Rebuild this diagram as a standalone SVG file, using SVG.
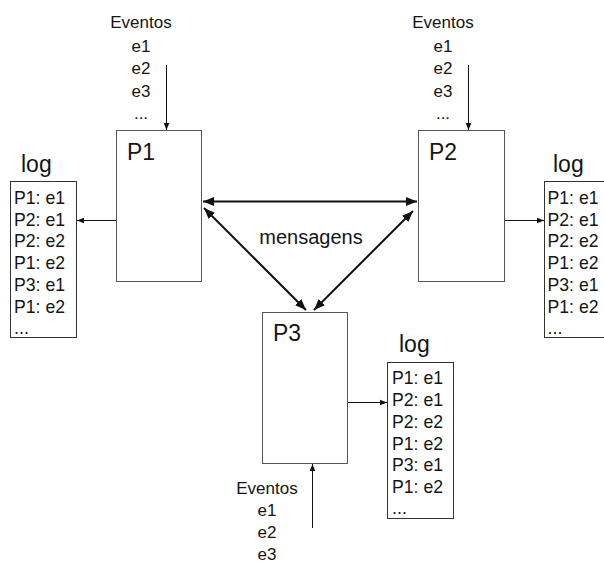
<svg xmlns="http://www.w3.org/2000/svg" width="604" height="580" viewBox="0 0 604 580">
  <defs>
    <marker id="head" viewBox="0 0 10 10" refX="10" refY="5" markerWidth="7" markerHeight="7" markerUnits="userSpaceOnUse" orient="auto">
      <path d="M0,1 L10,5 L0,9 z" fill="#111"/>
    </marker>
    <marker id="headBold" viewBox="0 0 10 10" refX="10" refY="5" markerWidth="11" markerHeight="11" markerUnits="userSpaceOnUse" orient="auto-start-reverse">
      <path d="M0,1 L10,5 L0,9 z" fill="#111"/>
    </marker>
    <style>
      text { font-family: "Liberation Sans", Arial, sans-serif; fill: #151515; }
      .proc { fill: #fff; stroke: #555; stroke-width: 1; }
      .logbox { fill: #fff; stroke: #333; stroke-width: 1; }
      .plabel { font-size: 24px; }
      .loglabel { font-size: 23px; }
      .entry { font-size: 19px; }
      .ev { font-size: 17px; text-anchor: middle; }
      .msg { font-size: 20px; text-anchor: middle; }
      .thin { stroke: #111; stroke-width: 1; fill: none; marker-end: url(#head); }
      .bold { stroke: #111; stroke-width: 2; fill: none; marker-start: url(#headBold); marker-end: url(#headBold); }
    </style>
  </defs>

  <!-- process P1 -->
  <g id="p1">
    <rect class="proc" x="116.5" y="130.5" width="85" height="151"/>
    <text class="plabel" x="127" y="160" textLength="28" lengthAdjust="spacingAndGlyphs">P1</text>
  </g>

  <!-- process P2 -->
  <g id="p2">
    <rect class="proc" x="418.5" y="130.5" width="86" height="151"/>
    <text class="plabel" x="429" y="160" textLength="28" lengthAdjust="spacingAndGlyphs">P2</text>
  </g>

  <!-- process P3 -->
  <g id="p3">
    <rect class="proc" x="262.5" y="312.5" width="85" height="151"/>
    <text class="plabel" x="273" y="341" textLength="28" lengthAdjust="spacingAndGlyphs">P3</text>
  </g>

  <!-- event lists -->
  <g id="events-p1">
    <text class="ev" x="141" y="28">Eventos</text>
    <text class="ev" x="141" y="51.5">e1</text>
    <text class="ev" x="141" y="74">e2</text>
    <text class="ev" x="141" y="96.5">e3</text>
    <text class="ev" x="141" y="118.5">...</text>
  </g>
  <g id="events-p2">
    <text class="ev" x="443" y="28">Eventos</text>
    <text class="ev" x="443" y="51.5">e1</text>
    <text class="ev" x="443" y="74">e2</text>
    <text class="ev" x="443" y="96.5">e3</text>
    <text class="ev" x="443" y="118.5">...</text>
  </g>
  <g id="events-p3">
    <text class="ev" x="267" y="493.5">Eventos</text>
    <text class="ev" x="267" y="516">e1</text>
    <text class="ev" x="267" y="538">e2</text>
    <text class="ev" x="267" y="560">e3</text>
  </g>

  <!-- log of P1 -->
  <g id="log-p1">
    <text class="loglabel" x="21" y="172">log</text>
    <rect class="logbox" x="10.5" y="181.5" width="66" height="156"/>
    <g class="entry">
      <text x="14" y="203.5" textLength="51" lengthAdjust="spacingAndGlyphs">P1: e1</text>
      <text x="14" y="225.5" textLength="51" lengthAdjust="spacingAndGlyphs">P2: e1</text>
      <text x="14" y="247" textLength="51" lengthAdjust="spacingAndGlyphs">P2: e2</text>
      <text x="14" y="269" textLength="51" lengthAdjust="spacingAndGlyphs">P1: e2</text>
      <text x="14" y="290.5" textLength="51" lengthAdjust="spacingAndGlyphs">P3: e1</text>
      <text x="14" y="312.5" textLength="51" lengthAdjust="spacingAndGlyphs">P1: e2</text>
      <text x="14" y="333.5" textLength="15" lengthAdjust="spacingAndGlyphs">...</text>
    </g>
  </g>

  <!-- log of P2 -->
  <g id="log-p2">
    <text class="loglabel" x="553" y="172">log</text>
    <rect class="logbox" x="544.5" y="181.5" width="70" height="156"/>
    <g class="entry">
      <text x="547.5" y="203.5" textLength="51" lengthAdjust="spacingAndGlyphs">P1: e1</text>
      <text x="547.5" y="225.5" textLength="51" lengthAdjust="spacingAndGlyphs">P2: e1</text>
      <text x="547.5" y="247" textLength="51" lengthAdjust="spacingAndGlyphs">P2: e2</text>
      <text x="547.5" y="269" textLength="51" lengthAdjust="spacingAndGlyphs">P1: e2</text>
      <text x="547.5" y="290.5" textLength="51" lengthAdjust="spacingAndGlyphs">P3: e1</text>
      <text x="547.5" y="312.5" textLength="51" lengthAdjust="spacingAndGlyphs">P1: e2</text>
      <text x="547.5" y="333.5" textLength="15" lengthAdjust="spacingAndGlyphs">...</text>
    </g>
  </g>

  <!-- log of P3 -->
  <g id="log-p3">
    <text class="loglabel" x="399" y="352">log</text>
    <rect class="logbox" x="387.5" y="362.5" width="66" height="156"/>
    <g class="entry">
      <text x="392" y="384" textLength="51" lengthAdjust="spacingAndGlyphs">P1: e1</text>
      <text x="392" y="406" textLength="51" lengthAdjust="spacingAndGlyphs">P2: e1</text>
      <text x="392" y="427.5" textLength="51" lengthAdjust="spacingAndGlyphs">P2: e2</text>
      <text x="392" y="449.5" textLength="51" lengthAdjust="spacingAndGlyphs">P1: e2</text>
      <text x="392" y="471" textLength="51" lengthAdjust="spacingAndGlyphs">P3: e1</text>
      <text x="392" y="492.5" textLength="51" lengthAdjust="spacingAndGlyphs">P1: e2</text>
      <text x="392" y="514" textLength="15" lengthAdjust="spacingAndGlyphs">...</text>
    </g>
  </g>

  <text class="msg" x="311" y="244">mensagens</text>

  <!-- connectors -->
  <g id="connectors">
    <line class="thin" x1="166.5" y1="65" x2="166.5" y2="130"/>
    <line class="thin" x1="468.5" y1="65" x2="468.5" y2="130"/>
    <line class="thin" x1="312.5" y1="528" x2="312.5" y2="464"/>
    <line class="thin" x1="116" y1="220.5" x2="77" y2="220.5"/>
    <line class="thin" x1="505" y1="220.5" x2="544" y2="220.5"/>
    <line class="thin" x1="348" y1="402.5" x2="387" y2="402.5"/>
    <line class="bold" x1="203" y1="201.5" x2="417" y2="201.5"/>
    <line class="bold" x1="204" y1="208" x2="306" y2="310"/>
    <line class="bold" x1="413" y1="211" x2="314" y2="310"/>
  </g>
</svg>
